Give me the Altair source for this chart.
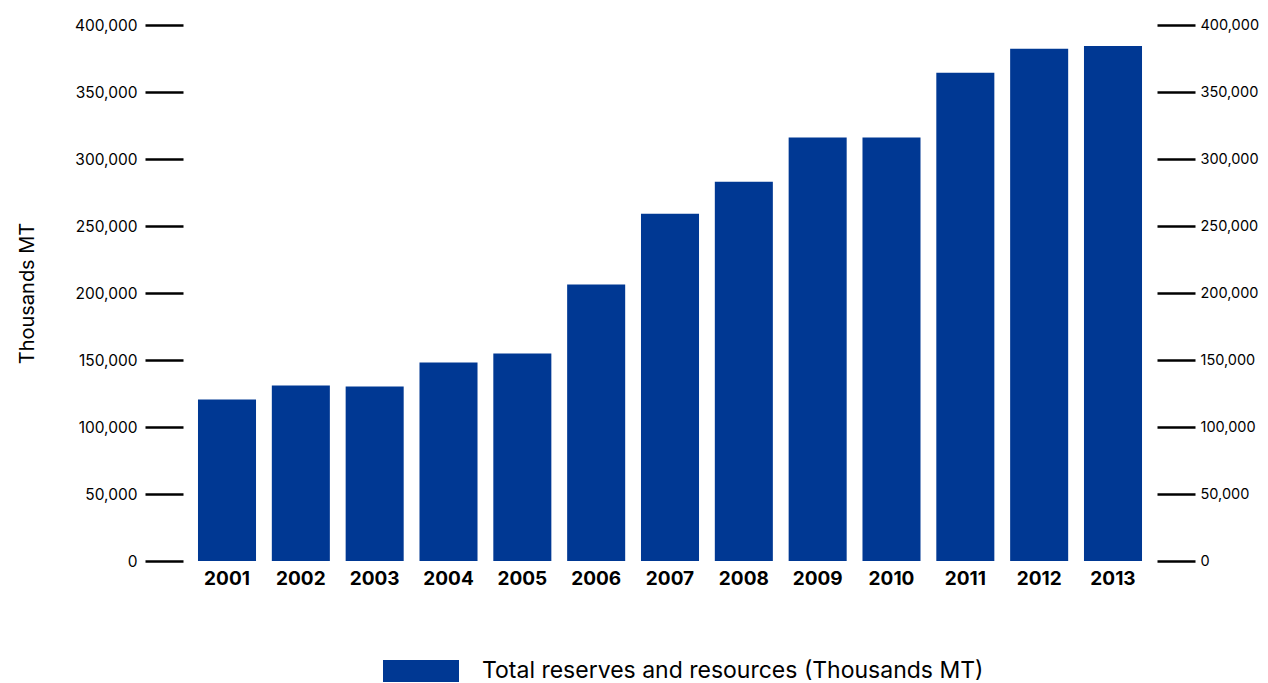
import altair as alt
import pandas as pd

years = ["2001", "2002", "2003", "2004", "2005", "2006", "2007",
         "2008", "2009", "2010", "2011", "2012", "2013"]
values = [120500, 131000, 130200, 148100, 154800, 206300, 259200,
          283000, 316100, 316100, 364300, 382200, 384400]
series_name = "Total reserves and resources (Thousands MT)"

df = pd.DataFrame({"year": years, "value": values, "series": series_name})

BAR = "#003893"
FONT = "Inter"

x_enc = alt.X("year:N", sort=years, title=None,
              scale=alt.Scale(paddingInner=0.214, paddingOuter=0.203),
              axis=alt.Axis(domain=False, ticks=False, labelAngle=0,
                            labelFont=FONT, labelFontSize=19,
                            labelFontWeight="bold", labelColor="#000000",
                            labelPadding=8))

yscale = alt.Scale(domain=[0, 400000], nice=False)

left = alt.Chart(df).mark_bar(color=BAR).encode(
    x=x_enc,
    y=alt.Y("value:Q", scale=yscale, title="Thousands MT",
            axis=alt.Axis(orient="left", values=list(range(0, 400001, 50000)),
                          format=",.0f", domain=False, grid=False,
                          tickSize=38, tickWidth=2.5, tickColor="#000000",
                          labelFont=FONT, labelFontSize=15.5, labelColor="#000000",
                          labelPadding=8,
                          titleFont=FONT, titleFontSize=20,
                          titleFontWeight="normal", titleColor="#000000",
                          titleX=-156, titleY=268, titleAngle=-90,
                          titleAlign="center", titleBaseline="middle")),
    color=alt.Color("series:N",
                    scale=alt.Scale(range=[BAR]),
                    legend=alt.Legend(title=None, orient="none",
                                      legendX=200, legendY=608,
                                      symbolType="M-1,-0.29H1V0.29H-1Z",
                                      symbolSize=5776, symbolStrokeWidth=0,
                                      symbolOpacity=1,
                                      labelFont=FONT, labelFontSize=23,
                                      labelColor="#000000", labelOffset=23,
                                      padding=0, labelLimit=800)),
)

right = alt.Chart(df).mark_bar(opacity=0).encode(
    x=alt.X("year:N", sort=years),
    y=alt.Y("value:Q", scale=yscale, title=None,
            axis=alt.Axis(orient="right", values=list(range(0, 400001, 50000)),
                          format=",.0f", domain=False, grid=False,
                          tickSize=38, tickWidth=2.5, tickColor="#000000",
                          labelFont=FONT, labelFontSize=14.5, labelColor="#000000",
                          labelPadding=5)),
)

chart = alt.layer(left, right).resolve_scale(y="independent").properties(
    width=974, height=536,
    autosize=alt.AutoSizeParams(type="none"),
    padding={"left": 175, "top": 17, "right": 103, "bottom": 122},
).configure_view(stroke=None)

chart.save("out.html", embed_options={"renderer": "svg", "actions": False})
